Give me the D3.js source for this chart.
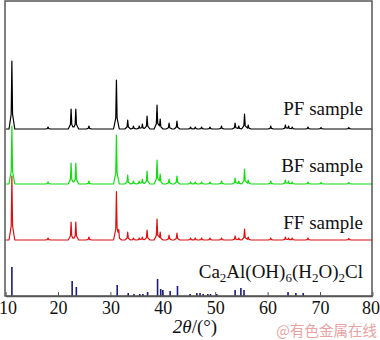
<!DOCTYPE html>
<html><head><meta charset="utf-8">
<script src="https://cdn.jsdelivr.net/npm/d3@7"></script>
<style>body{margin:0;background:#fff}svg{display:block}</style>
</head><body><svg id="c" width="380" height="340"></svg>
<script>
// ---- data (2θ in degrees, intensity in arbitrary units) ----
const xTicks = [10, 20, 30, 40, 50, 60, 70, 80];
const seriesNames = ["PF sample", "BF sample", "FF sample"];
const seriesOffsets = [167, 112, 56];
const pfPeaks = [[11.2,68],[18.1,2],[22.5,20],[23.4,20],[25.9,3],[31.15,49],[33.3,9],[34.4,3],[35.5,3],[36.1,5],[37.0,13],[38.9,24],[39.5,10],[41.2,6],[42.7,8],[45.3,2],[46.2,2],[47.4,2],[49.0,2],[51.2,3],[53.8,6],[54.5,3],[55.6,15],[56.3,4],[60.6,3],[63.4,4],[64.0,3],[64.7,2],[67.7,2],[70.2,1.5],[75.5,1.5]];
const bfPeaks = [[11.2,58],[18.1,2],[22.5,21],[23.4,21],[25.9,3],[31.15,49],[33.3,9],[34.4,3],[35.5,3],[36.1,5],[37.0,13],[38.9,24],[39.5,10],[41.2,5],[42.7,8],[45.3,2],[46.2,2],[47.4,2],[49.0,2],[51.2,3],[53.8,6],[54.5,3],[55.6,15],[56.3,4],[60.6,3],[63.4,4],[64.0,3],[64.7,2],[67.7,2],[70.2,1.5],[75.5,1.5]];
const ffPeaks = [[11.2,64],[18.1,2],[22.5,18],[23.4,18],[25.9,3],[31.15,48],[31.6,8],[33.3,8],[34.4,2],[35.5,2],[36.1,3],[37.0,10],[38.9,21],[39.5,8],[41.2,5],[42.7,7],[45.3,2],[46.2,2],[47.4,2],[49.0,2],[51.2,2],[53.8,4],[54.5,2],[55.6,11],[56.3,3],[60.6,2],[63.4,3],[64.0,2],[64.7,2],[67.7,2],[75.5,1.5]];
const refSticks = [[11.2,29],[22.7,15],[23.5,9],[31.3,11],[33.4,3],[34.5,2],[35.6,2],[36.2,2],[37.1,4],[39.0,17],[39.6,7],[40.0,6],[41.4,5],[42.8,10],[45.2,2],[46.5,3],[47.1,3],[47.7,2],[48.6,2],[49.1,2],[50.3,2],[53.8,6],[54.9,8],[55.5,6],[63.9,4],[65.4,3],[66.8,3]];
const colors = ["#000000", "#11dd11", "#dd1111"];
const stickColor = "#1a1a80";

// ---- layout ----
const svg = d3.select("#c");
const L = 5.6, R = 372.4, T = 1, B = 296;
const x = d3.scaleLinear().domain([10, 80]).range([L, R]);
const y = d3.scaleLinear().domain([0, 295]).range([B, T]);

// piecewise peak glyph (relative offsets in degrees, relative height)
const glyph = [[-0.55,0],[-0.13,0.22],[0,1],[0.13,0.22],[0.55,0]];
function profile(peaks) {
  const xs = new Set([10, 80]);
  peaks.forEach(([p]) => glyph.forEach(([dx]) => xs.add(+(p + dx).toFixed(3))));
  const sorted = [...xs].filter(v => v >= 10 && v <= 80).sort((a, b) => a - b);
  return sorted.map(v => {
    let s = 0;
    peaks.forEach(([p, h]) => {
      const d = v - p;
      if (d <= glyph[0][0] || d >= glyph[glyph.length - 1][0]) return;
      for (let i = 0; i < glyph.length - 1; i++) {
        const [a, fa] = glyph[i], [b, fb] = glyph[i + 1];
        if (d >= a && d <= b) { s += h * (fa + (fb - fa) * (d - a) / (b - a)); break; }
      }
    });
    return [v, s];
  });
}

const allPeaks = [pfPeaks, bfPeaks, ffPeaks];
const line = d3.line().x(d => x(d[0])).y(d => y(d[1]));
[2, 1, 0].forEach(i => {
  const pts = profile(allPeaks[i]).map(([a, b]) => [a, b + seriesOffsets[i]]);
  svg.append("path").attr("d", line(pts)).attr("fill", "none")
    .attr("stroke", colors[i]).attr("stroke-width", 1.2).attr("stroke-linejoin", "round");
});

// reference sticks
svg.append("g").selectAll("line").data(refSticks).join("line")
  .attr("x1", d => x(d[0])).attr("x2", d => x(d[0]))
  .attr("y1", y(0)).attr("y2", d => y(d[1]))
  .attr("stroke", stickColor).attr("stroke-width", 1.6);

// frame
svg.append("rect").attr("x", 5).attr("y", 1).attr("width", 367).attr("height", 295)
  .attr("fill", "none").attr("stroke", "#555").attr("stroke-width", 1.5);

// x axis
const serif = "'Liberation Serif','Times New Roman',serif";
const ax = svg.append("g").attr("transform", `translate(0,${B})`)
  .call(d3.axisBottom(x).tickValues(xTicks).tickSizeInner(-4).tickSizeOuter(0).tickPadding(5));
ax.select(".domain").attr("stroke", "#555").attr("stroke-width", 1.5);
ax.selectAll(".tick line").attr("stroke", "#555");
ax.selectAll(".tick text").attr("font-family", serif)
  .attr("font-size", 18).attr("fill", "#111");
ax.selectAll(".tick text").filter(d => d === 10).attr("dx", 2);
ax.selectAll(".tick text").filter(d => d === 80).attr("dx", -2);

// series labels
const labelY = [115, 172, 229];
seriesNames.forEach((n, i) => {
  svg.append("text").attr("x", 363).attr("y", labelY[i]).attr("text-anchor", "end")
    .attr("font-family", serif).attr("font-size", 19).attr("fill", "#111").text(n);
});
const ref = svg.append("text").attr("x", 363).attr("y", 278).attr("text-anchor", "end")
  .attr("font-family", serif).attr("font-size", 19).attr("fill", "#111");
let shifted = false;
[["Ca",0],["2",1],["Al(OH)",0],["6",1],["(H",0],["2",1],["O)",0],["2",1],["Cl",0]].forEach(([t, sub]) => {
  let dy = 0;
  if (sub && !shifted) { dy = 4; shifted = true; }
  else if (!sub && shifted) { dy = -4; shifted = false; }
  ref.append("tspan").text(t).attr("font-size", sub ? 13 : 19).attr("dy", dy);
});

// axis title
const tt = svg.append("text").attr("x", 195).attr("y", 333).attr("text-anchor", "middle")
  .attr("font-family", serif).attr("font-size", 19).attr("fill", "#111");
tt.append("tspan").attr("font-style", "italic").text("2θ");
tt.append("tspan").text("/(°)");

// watermark
svg.append("text").attr("x", 377).attr("y", 336).attr("text-anchor", "end")
  .attr("font-family", "'Noto Sans CJK SC',sans-serif").attr("font-size", 14.5)
  .attr("fill", "#eaa3a3").text("@有色金属在线");
</script></body></html>
